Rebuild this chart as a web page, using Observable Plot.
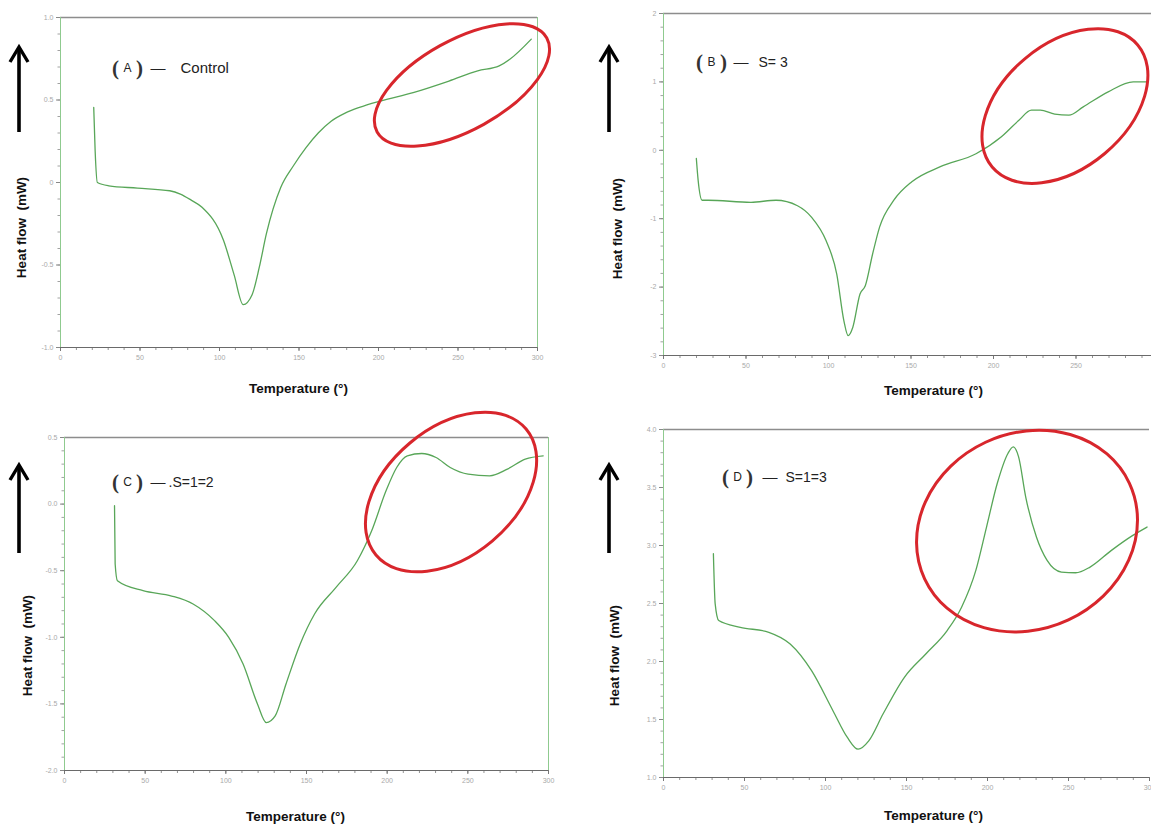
<!DOCTYPE html>
<html><head><meta charset="utf-8">
<script src="https://cdn.jsdelivr.net/npm/d3@7"></script>
<script src="https://cdn.jsdelivr.net/npm/@observablehq/plot@0.6"></script>
<style>
html,body{margin:0;padding:0;background:#fff;overflow:hidden;}
#root{position:relative;width:1151px;height:824px;overflow:hidden;background:#fff;}
.panel{position:absolute;}
#overlay{position:absolute;left:0;top:0;}
</style></head><body><div id="root"></div>
<script>
// ---------------- data ----------------
const tempTicks = [0, 50, 100, 150, 200, 250, 300];
const tempTickLabels = ["0", "50", "100", "150", "200", "250", "300"];

const tempA = [20.9, 21.8, 23.2, 30.4, 48.4, 68.7, 75.4, 82.2, 89.0, 102.5, 109.2, 114.9, 120.5, 125.0, 129.5, 138.5, 146.4, 154.3, 162.1, 170.0, 179.0, 188.0, 201.6, 221.8, 244.3, 262.4, 275.9, 282.6, 296.1];
const heatA = [0.455, 0.19, 0.0, -0.02, -0.034, -0.05, -0.07, -0.107, -0.15, -0.35, -0.56, -0.74, -0.68, -0.515, -0.31, -0.03, 0.10, 0.21, 0.30, 0.37, 0.42, 0.455, 0.495, 0.545, 0.615, 0.677, 0.707, 0.747, 0.869];

const tempB = [19.9, 21.0, 23.4, 27.1, 53.0, 68.2, 81.2, 89.8, 98.5, 105.0, 109.3, 111.9, 114.7, 119.1, 122.3, 126.7, 131.0, 139.6, 150.5, 167.8, 189.4, 204.6, 215.4, 223.0, 228.4, 237.1, 245.7, 254.4, 269.5, 284.7, 293.4];
const heatB = [-0.12, -0.44, -0.73, -0.73, -0.76, -0.73, -0.81, -0.98, -1.32, -1.81, -2.49, -2.71, -2.59, -2.10, -1.98, -1.52, -1.12, -0.73, -0.46, -0.24, -0.05, 0.195, 0.44, 0.587, 0.587, 0.528, 0.513, 0.635, 0.855, 1.0, 1.0];

const tempC = [31.0, 31.4, 32.8, 48.7, 66.4, 79.7, 93.0, 101.8, 110.7, 119.6, 125.1, 130.6, 137.3, 146.1, 155.0, 168.3, 181.5, 190.4, 199.3, 205.9, 212.5, 221.4, 230.3, 239.1, 250.2, 263.5, 274.5, 285.6, 296.7];
const heatC = [-0.012, -0.45, -0.575, -0.65, -0.69, -0.75, -0.875, -1.0, -1.2, -1.5, -1.64, -1.59, -1.35, -1.05, -0.825, -0.625, -0.425, -0.20, 0.10, 0.275, 0.3625, 0.38, 0.35, 0.275, 0.225, 0.2125, 0.2625, 0.3375, 0.3625];

const tempD = [30.8, 31.9, 34.1, 47.4, 65.0, 78.2, 91.4, 104.6, 113.5, 120.1, 126.7, 135.5, 148.7, 161.9, 175.1, 184.0, 192.8, 199.4, 206.0, 212.6, 215.9, 219.2, 223.6, 230.2, 236.8, 245.6, 254.4, 263.3, 276.5, 289.7, 298.5];
const heatD = [2.929, 2.497, 2.353, 2.295, 2.252, 2.151, 1.921, 1.576, 1.345, 1.244, 1.316, 1.547, 1.864, 2.065, 2.267, 2.468, 2.785, 3.159, 3.534, 3.793, 3.850, 3.764, 3.418, 3.073, 2.871, 2.771, 2.765, 2.814, 2.958, 3.087, 3.159];

const yTicksA = [1.0, 0.5, 0, -0.5, -1.0];
const yLabelsA = ["1.0", "0.5", "0", "-0.5", "-1.0"];
const yTicksB = [2, 1, 0, -1, -2, -3];
const yLabelsB = ["2", "1", "0", "-1", "-2", "-3"];
const yTicksC = [0.5, 0, -0.5, -1.0, -1.5, -2.0];
const yLabelsC = ["0.5", "0.0", "-0.5", "-1.0", "-1.5", "-2.0"];
const yTicksD = [4.0, 3.5, 3.0, 2.5, 2.0, 1.5, 1.0];
const yLabelsD = ["4.0", "3.5", "3.0", "2.5", "2.0", "1.5", "1.0"];

const panelLetters = ["A", "B", "C", "D"];
const sampleNames = ["Control", "S= 3", ".S=1=2", "S=1=3"];
const xTitle = "Temperature (°)";
const yTitle = "Heat flow  (mW)";

// ---------------- layout (page pixels) ----------------
const panels = [
  {temps: tempA, heats: heatA, yTicks: yTicksA, yLabels: yLabelsA, yDomain: [-1, 1], minorY: 0.1,
   left: 0, top: 0, width: 575, height: 410, ml: 60, mr: 38, mt: 17, mb: 63, rightFrame: true,
   xt: [298, 388], yt: [21, 227],
   ann: {p: 115, l: 127, c: 139, d: 150, n: 180, y: 68},
   ell: {t: 252.8, h: 0.588, rx: 97, ry: 45, rot: -29},
   arrow: {x: 19, y1: 47, y2: 132}},
  {temps: tempB, heats: heatB, yTicks: yTicksB, yLabels: yLabelsB, yDomain: [-3, 2], minorY: 0.2,
   left: 590, top: 0, width: 580, height: 410, ml: 73, mr: 12, mt: 13, mb: 55, rightFrame: false,
   xt: [933, 390], yt: [617, 228],
   ann: {p: 699, l: 711, c: 723, d: 733, n: 758, y: 62},
   ell: {t: 243.6, h: 0.64, rx: 95, ry: 62, rot: -40},
   arrow: {x: 609, y1: 47, y2: 132}},
  {temps: tempC, heats: heatC, yTicks: yTicksC, yLabels: yLabelsC, yDomain: [-2, 0.5], minorY: 0.1,
   left: 0, top: 410, width: 575, height: 414, ml: 64, mr: 27, mt: 27, mb: 54, rightFrame: true,
   xt: [295, 816], yt: [27, 645],
   ann: {p: 115, l: 127, c: 139, d: 150, n: 168, y: 482},
   ell: {t: 239.9, h: 0.087, rx: 98, ry: 64, rot: -40},
   arrow: {x: 19, y1: 465, y2: 553}},
  {temps: tempD, heats: heatD, yTicks: yTicksD, yLabels: yLabelsD, yDomain: [1, 4], minorY: 0.1,
   left: 590, top: 410, width: 580, height: 414, ml: 73, mr: 21, mt: 19, mb: 47, rightFrame: false,
   xt: [933, 815], yt: [614, 655],
   ann: {p: 725, l: 737, c: 749, d: 762, n: 785, y: 477},
   ell: {t: 224.7, h: 3.12, rx: 113, ry: 98, rot: -25},
   arrow: {x: 609, y1: 465, y2: 553}}
];

const FONT = "'Liberation Sans', Arial, Helvetica, sans-serif";
const SERIF = "'Liberation Serif', 'Times New Roman', serif";
const root = document.getElementById("root");
const xMinor = d3.range(0, 301, 10);
const xLabelMap = new Map(tempTicks.map((t, i) => [t, tempTickLabels[i]]));

panels.forEach((p, k) => {
  const rows = p.temps.map((t, i) => ({t, h: p.heats[i]}));
  const yMap = new Map(p.yTicks.map((t, i) => [t, p.yLabels[i]]));
  const yMinor = d3.range(p.yDomain[0], p.yDomain[1] + 1e-9, p.minorY).map(v => +v.toFixed(4));
  const rx = (px) => px - p.left - p.ml;   // page x -> offset from frame left
  const ry = (py) => py - p.top - p.mt;    // page y -> offset from frame top
  const ellipseMark = (index, scales) => {
    const e = document.createElementNS("http://www.w3.org/2000/svg", "ellipse");
    const cx = scales.x(p.ell.t), cy = scales.y(p.ell.h);
    e.setAttribute("cx", 0); e.setAttribute("cy", 0);
    e.setAttribute("rx", p.ell.rx); e.setAttribute("ry", p.ell.ry);
    e.setAttribute("transform", `translate(${cx},${cy}) rotate(${p.ell.rot})`);
    e.setAttribute("fill", "none");
    e.setAttribute("stroke", "#d8262c");
    e.setAttribute("stroke-width", 3);
    return e;
  };
  const ann = p.ann;
  const txt = (s, px, opts) => Plot.text([s], {text: d => d, frameAnchor: "top-left",
    dx: rx(px), dy: ry(ann.y), lineAnchor: "middle", ...opts});

  const marks = [
    Plot.ruleY([p.yDomain[1]], {stroke: "#8d8d8d", strokeWidth: 1.6}),
    Plot.ruleX([0], {stroke: "#8fca8f", strokeWidth: 1}),
    p.rightFrame ? Plot.ruleX([300], {stroke: "#8fca8f", strokeWidth: 1}) : null,
    Plot.axisX(xMinor, {tickSize: 3, tickFormat: () => "", label: null, stroke: "#777", strokeWidth: 0.8}),
    Plot.axisX(tempTicks, {tickSize: 4, tickPadding: 4, tickFormat: d => xLabelMap.get(d), label: null,
      fontSize: 7, color: "#a9a9a9", stroke: "#777"}),
    Plot.axisY(yMinor, {tickSize: 2.5, tickFormat: () => "", label: null, stroke: "#8a8a8a", strokeWidth: 0.8}),
    Plot.axisY(p.yTicks, {tickSize: 4, tickPadding: 3, tickFormat: d => yMap.get(d), label: null,
      fontSize: 7, color: "#a9a9a9", stroke: "#888"}),
    Plot.ruleY([p.yDomain[0]], {stroke: "#6a6a6a", strokeWidth: 1.1}),
    Plot.line(rows, {x: "t", y: "h", stroke: "#58a658", strokeWidth: 1.3, curve: "monotone-x"}),
    ellipseMark,
    Plot.text([xTitle], {text: d => d, frameAnchor: "top-left", dx: rx(p.xt[0]), dy: ry(p.xt[1]),
      textAnchor: "middle", lineAnchor: "middle", fontSize: 13.5, fontWeight: "bold", fill: "#111"}),
    Plot.text([yTitle], {text: d => d, frameAnchor: "top-left", dx: rx(p.yt[0]), dy: ry(p.yt[1]),
      rotate: -90, textAnchor: "middle", lineAnchor: "middle", fontSize: 13.5, fontWeight: "bold", fill: "#111"}),
    txt("(", ann.p, {textAnchor: "middle", fontFamily: SERIF, fontSize: 21, fontWeight: "bold", fill: "#333"}),
    txt(panelLetters[k], ann.l, {textAnchor: "middle", fontSize: 12, fill: "#222"}),
    txt(")", ann.c, {textAnchor: "middle", fontFamily: SERIF, fontSize: 21, fontWeight: "bold", fill: "#333"}),
    txt("—", ann.d, {textAnchor: "start", fontSize: 15, fill: "#222"}),
    txt(sampleNames[k], ann.n, {textAnchor: "start", fontSize: k === 0 ? 15 : 14, fill: "#222"})
  ].filter(Boolean);

  const chart = Plot.plot({
    width: p.width, height: p.height,
    marginLeft: p.ml, marginRight: p.mr, marginTop: p.mt, marginBottom: p.mb,
    x: {domain: [0, 300]},
    y: {domain: p.yDomain},
    style: {background: "transparent", fontFamily: FONT, overflow: "visible"},
    marks
  });
  chart.classList.add("panel");
  chart.style.left = p.left + "px";
  chart.style.top = p.top + "px";
  root.appendChild(chart);
});

// decorative upward arrows beside each y axis title
const svg = d3.select(root).append("svg").attr("id", "overlay").attr("width", 1151).attr("height", 824);
panels.forEach(p => {
  const a = p.arrow;
  svg.append("line").attr("x1", a.x).attr("x2", a.x).attr("y1", a.y1 + 2).attr("y2", a.y2)
    .attr("stroke", "#000").attr("stroke-width", 3.6);
  svg.append("path").attr("d", `M${a.x - 9},${a.y1 + 15} L${a.x},${a.y1} L${a.x + 9},${a.y1 + 15}`)
    .attr("fill", "none").attr("stroke", "#000").attr("stroke-width", 3.4).attr("stroke-linejoin", "miter");
});
</script></body></html>
